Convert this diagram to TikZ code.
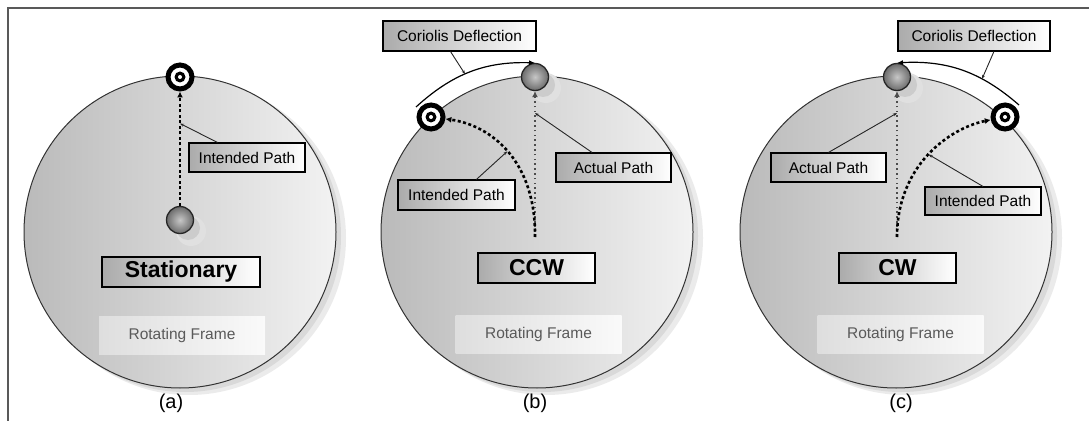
\documentclass[tikz,border=0pt]{standalone}
\usepackage{fontspec}
\setmainfont{Liberation Sans}
\usetikzlibrary{arrows.meta}
\begin{document}
\begin{tikzpicture}[x=1pt,y=1pt,
    pathtag/.style={draw=black,line width=1.1pt,left color=black!33,middle color=black!3,right color=white,
      minimum width=116pt,minimum height=29pt,inner sep=0pt,font=\fontsize{15.5}{17}\selectfont},
    bigtag/.style={pathtag,line width=1.6pt,minimum width=117pt,minimum height=30pt,font=\fontsize{23}{25}\selectfont\bfseries},
    frametag/.style={left color=black!13,right color=black!2,minimum width=166pt,minimum height=38pt,
      inner sep=0pt,text=black!65,font=\fontsize{15.5}{17}\selectfont},
    sublabel/.style={font=\fontsize{20}{22}\selectfont},
    tgt/.style={circle,draw=black,line width=5pt,fill=white,minimum size=24pt,inner sep=0pt,
      path picture={\fill[black] (path picture bounding box.center) circle (5.5pt);
        \fill[white] (path picture bounding box.center) circle (2pt);}},
    puck/.style={circle,draw=black!85,line width=1.3pt,inner color=black!22,outer color=black!58,
      minimum size=27pt,inner sep=0pt},
    intended/.style={line width=2.6pt,dash pattern=on 3pt off 2.5pt,-{Latex[length=6pt,width=6pt]}},
    actual/.style={line width=1.8pt,black!70,dash pattern=on 1.6pt off 3.2pt,-{Latex[length=6pt,width=6pt]}},
    leader/.style={line width=0.9pt,black!85,-{Stealth[length=4pt,width=3pt]}},
    deflect/.style={line width=1.2pt,-{Latex[length=6pt,width=5pt]}}]
  \useasboundingbox (0,0) rectangle (1089,421);
  \draw[black!65,line width=2.2pt] (1089,413) -- (8,413) -- (8,0);
  \foreach \cx in {180,537,896}{
    \fill[black!8] (\cx+9,183) circle (157);
    \fill[black!15] (\cx+5,185) circle (156);
    \draw[black!80,line width=1pt,left color=black!27,right color=black!5] (\cx,189) circle (156);
  }
  \foreach \bx/\by in {180/201,535/344,897/344}{
    \fill[black!12] (\bx+11,\by-11) circle (15);
    \fill[black!20] (\bx+8,\by-8) circle (12);
  }
  % (a)
  \node[tgt] (ta) at (180,344) {};
  \node[puck] (pa) at (180,201) {};
  \draw[intended] (pa) -- coordinate[pos=.72] (ka) (ta);
  \node[pathtag] (ipa) at (247,263.5) {Intended Path};
  \draw[leader] (ipa.153) -- (ka);
  \node[bigtag,minimum width=158pt] (sta) at (181,149) {Stationary};
  \node[frametag] (rfa) at (182,86) {Rotating Frame};
  \node[sublabel] (la) at (171,18) {(a)};
  % (b)
  \node[tgt] (tb) at (431,304) {};
  \node[puck] (pb) at (535,344) {};
  \coordinate (sb) at (535,184);
  \draw[actual] (sb) -- coordinate[pos=.85] (kb2) (pb);
  \draw[intended] (sb) .. controls (536,261) and (490,296) .. coordinate[pos=.5] (kb3) (tb);
  \coordinate (db) at (416,314);
  \draw[deflect] (db) to[bend left=22] coordinate[pos=.45] (kb1) (pb.north);
  \node[pathtag,minimum width=153pt,minimum height=30pt] (cdb) at (459.5,385) {Coriolis Deflection};
  \draw[leader] (cdb.-120) -- (kb1);
  \node[pathtag,minimum width=115pt] (apb) at (613.5,253.5) {Actual Path};
  \draw[leader] (apb.145) -- (kb2);
  \node[pathtag,minimum width=117pt,minimum height=30pt] (ipb) at (456.5,226) {Intended Path};
  \draw[leader] (ipb.38) -- (kb3);
  \node[bigtag] (ccw) at (536.5,153) {CCW};
  \node[frametag] (rfb) at (538.5,87) {Rotating Frame};
  \node[sublabel] (lb) at (535,18) {(b)};
  % (c)
  \node[tgt] (tc) at (1005,304) {};
  \node[puck] (pc) at (897,344) {};
  \coordinate (sc) at (897,184);
  \draw[actual] (sc) -- coordinate[pos=.85] (kc2) (pc);
  \draw[intended] (sc) .. controls (897,256) and (950,293) .. coordinate[pos=.5] (kc3) (tc);
  \coordinate (dc) at (1019,316);
  \draw[deflect] (dc) to[bend right=22] coordinate[pos=.33] (kc1) (pc.north);
  \node[pathtag,minimum width=152pt,minimum height=30pt] (cdc) at (974,385) {Coriolis Deflection};
  \draw[leader] (cdc.-38) -- (kc1);
  \node[pathtag,minimum width=115pt] (apc) at (828.5,253.5) {Actual Path};
  \draw[leader] (apc.north) -- (kc2);
  \node[pathtag,minimum height=28pt] (ipc) at (983,220) {Intended Path};
  \draw[leader] (ipc.north) -- (kc3);
  \node[bigtag] (cw) at (897.5,153) {CW};
  \node[frametag] (rfc) at (900.5,87) {Rotating Frame};
  \node[sublabel] (lc) at (901,18) {(c)};
\end{tikzpicture}
\end{document}
